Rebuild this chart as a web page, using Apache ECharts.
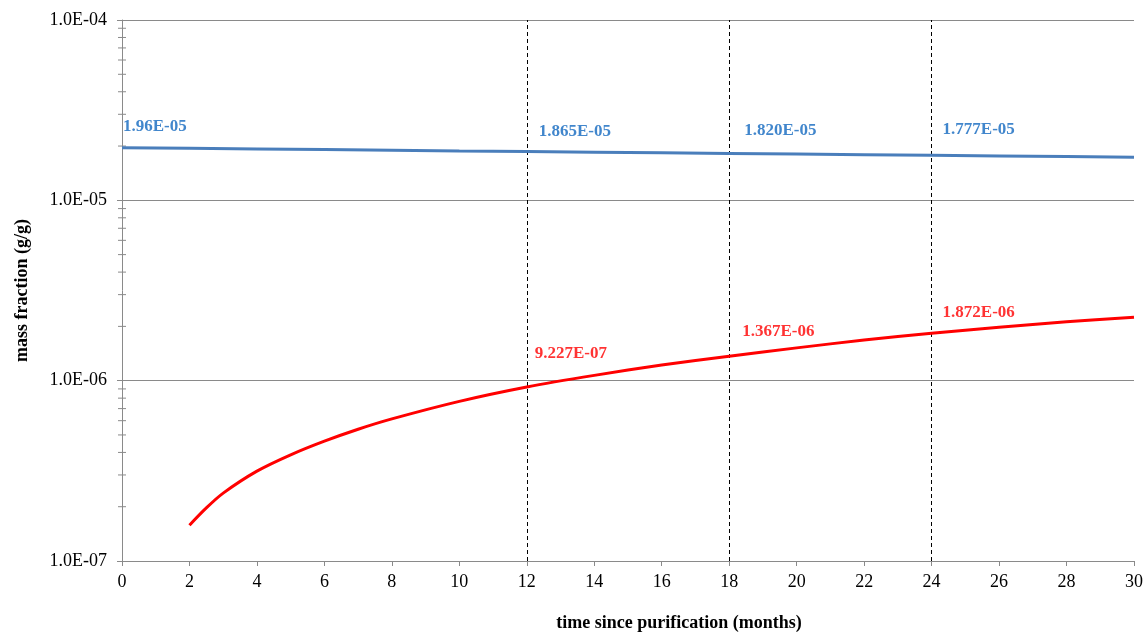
<!DOCTYPE html>
<html>
<head>
<meta charset="utf-8">
<script src="https://cdn.jsdelivr.net/npm/echarts@6/dist/echarts.min.js"></script>
<style>html,body{margin:0;padding:0;background:#fff;overflow:hidden}#c{width:1144px;height:632px}</style>
</head>
<body>
<div id="c"></div>
<script>
// ---- data ----
const blueX = [0, 2, 4, 6, 8, 10, 12, 14, 16, 18, 20, 22, 24, 26, 28, 30];
const blueY = [1.96e-5, 1.944e-5, 1.928e-5, 1.912e-5, 1.896e-5, 1.880e-5, 1.865e-5, 1.850e-5, 1.835e-5, 1.820e-5, 1.806e-5, 1.791e-5, 1.777e-5, 1.762e-5, 1.748e-5, 1.734e-5];
const redX = [2, 2.5, 3, 4, 5, 6, 7, 8, 10, 12, 14, 16, 18, 20, 22, 24, 26, 28, 30];
const redY = [1.58e-7, 1.97e-7, 2.38e-7, 3.15e-7, 3.88e-7, 4.62e-7, 5.38e-7, 6.14e-7, 7.68e-7, 9.227e-7, 1.07e-6, 1.22e-6, 1.367e-6, 1.52e-6, 1.68e-6, 1.83e-6, 1.98e-6, 2.12e-6, 2.25e-6];
const markX = [12, 18, 24];
const blueLabelX = [0, 12, 18, 24];
const blueLabelY = [1.96e-5, 1.865e-5, 1.820e-5, 1.777e-5];
const blueLabelText = ['1.96E-05', '1.865E-05', '1.820E-05', '1.777E-05'];
const redLabelX = [12, 18, 24];
const redLabelY = [9.227e-7, 1.367e-6, 1.872e-6];
const redLabelText = ['9.227E-07', '1.367E-06', '1.872E-06'];
const minorTicks = [2e-7,3e-7,4e-7,5e-7,6e-7,7e-7,8e-7,9e-7,2e-6,3e-6,4e-6,5e-6,6e-6,7e-6,8e-6,9e-6,2e-5,3e-5,4e-5,5e-5,6e-5,7e-5,8e-5,9e-5];
const yTickLabels = {'-7':'1.0E-07','-6':'1.0E-06','-5':'1.0E-05','-4':'1.0E-04'};

// ---- label placement (style config) ----
const blueLabelOffsets = [[1,-21],[12,-20],[15,-23],[11,-26]];
const redLabelOffsets = [[8,-33],[13,-25],[11,-19]];

const FONT = '"Liberation Serif", "Times New Roman", serif';
const BLUE_LINE = '#4a7ebb';
const BLUE_TEXT = '#1168bf';
const RED = '#ff0000';
const AXIS = '#8a8a8a';

function labelItems(xs, ys, texts, offs, color) {
  return xs.map((x, i) => ({
    value: [x, ys[i]],
    label: {
      show: true, formatter: texts[i], position: offs[i],
      align: 'left', verticalAlign: 'middle',
      color: color, fontFamily: FONT, fontWeight: 'bold', fontSize: 17
    }
  }));
}

const chart = echarts.init(document.getElementById('c'), null, {renderer: 'canvas'});
chart.setOption({
  animation: false,
  backgroundColor: '#fff',
  grid: {left: 122, right: 10, top: 20, bottom: 71, containLabel: false, outerBoundsMode: 'none'},
  xAxis: {
    type: 'value', min: 0, max: 30, interval: 2,
    name: 'time since purification (months)', nameLocation: 'middle', nameGap: 53,
    nameTextStyle: {fontFamily: FONT, fontWeight: 'bold', fontSize: 18, color: '#000', padding: [0,0,0,102]},
    axisLine: {show: true, lineStyle: {color: AXIS, width: 1}},
    axisTick: {show: true, inside: false, length: 5, lineStyle: {color: AXIS}},
    axisLabel: {fontFamily: FONT, fontSize: 18, color: '#000', margin: 12},
    splitLine: {show: false}
  },
  yAxis: {
    type: 'log', logBase: 10, min: 1e-7, max: 1e-4,
    name: 'mass fraction (g/g)', nameLocation: 'middle', nameGap: 91,
    nameTextStyle: {fontFamily: FONT, fontWeight: 'bold', fontSize: 18, color: '#000'},
    axisLine: {show: true, lineStyle: {color: AXIS, width: 1}},
    axisTick: {show: true, inside: false, length: 5, lineStyle: {color: AXIS}},
    minorTick: {show: false},
    axisLabel: {
      fontFamily: FONT, fontSize: 18, color: '#000', margin: 15,
      formatter: function (v) {
        const e = Math.round(Math.log10(v));
        return yTickLabels[String(e)] || v.toExponential(1).toUpperCase();
      }
    },
    splitLine: {show: true, lineStyle: {color: AXIS, width: 1}}
  },
  series: [
    {
      type: 'line', name: 'blue', data: blueX.map((x, i) => [x, blueY[i]]),
      showSymbol: false, symbol: 'none', lineStyle: {color: BLUE_LINE, width: 3}, z: 5,
      markLine: {
        silent: true, symbol: 'none', label: {show: false},
        lineStyle: {color: '#000', type: [4, 3], width: 1},
        data: markX.map(x => ({xAxis: x}))
      }
    },
    {
      type: 'line', name: 'red', data: redX.map((x, i) => [x, redY[i]]),
      showSymbol: false, symbol: 'none', smooth: 0.3, lineStyle: {color: RED, width: 3}, z: 5
    },
    {
      type: 'scatter', symbolSize: 0.1, itemStyle: {color: 'rgba(0,0,0,0)'}, z: 6,
      data: labelItems(blueLabelX, blueLabelY, blueLabelText, blueLabelOffsets, BLUE_TEXT)
    },
    {
      type: 'scatter', symbolSize: 0.1, itemStyle: {color: 'rgba(0,0,0,0)'}, z: 6,
      data: labelItems(redLabelX, redLabelY, redLabelText, redLabelOffsets, RED)
    },
    {
      type: 'custom', clip: false, silent: true, z: 4,
      data: minorTicks.map(v => [0, v]),
      renderItem: function (params, api) {
        const p = api.coord([0, api.value(1)]);
        return {
          type: 'line',
          shape: {x1: p[0] - 4, y1: p[1], x2: p[0] + 4, y2: p[1]},
          style: {stroke: AXIS, lineWidth: 1}
        };
      }
    }
  ]
});
</script>
</body>
</html>
